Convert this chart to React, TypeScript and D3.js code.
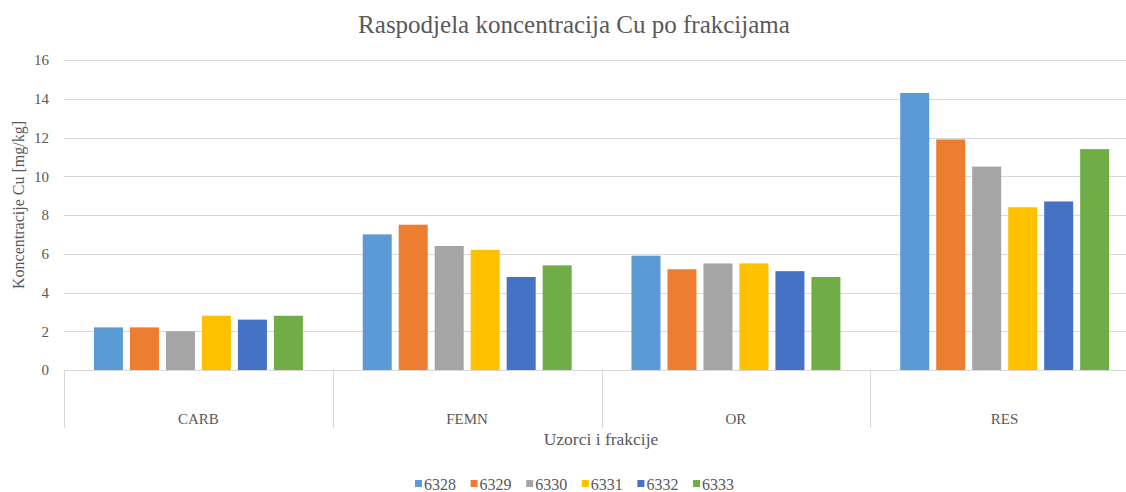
import React, { useRef, useEffect } from "react";
import * as d3 from "d3";

const categories = ["CARB", "FEMN", "OR", "RES"];
const seriesNames = ["6328", "6329", "6330", "6331", "6332", "6333"];
const values = [
  [2.2, 7.0, 5.9, 14.3],
  [2.2, 7.5, 5.2, 11.9],
  [2.0, 6.4, 5.5, 10.5],
  [2.8, 6.2, 5.5, 8.4],
  [2.6, 4.8, 5.1, 8.7],
  [2.8, 5.4, 4.8, 11.4],
];
const colors = ["#5B9BD5", "#ED7D31", "#A5A5A5", "#FFC000", "#4472C4", "#70AD47"];
const yTicks = [0, 2, 4, 6, 8, 10, 12, 14, 16];

const W = 1126;
const H = 492;
const FONT = "'Liberation Serif', 'Times New Roman', serif";
const TEXT = "#595959";
const GRID = "#d9d9d9";

const App = () => {
  const svgRef = useRef<SVGSVGElement>(null);

  useEffect(() => {
    const svg = d3.select(svgRef.current);
    svg.selectAll("*").remove();

    const left = 64;
    const right = 1139;
    const top = 60;
    const bottom = 370;

    const y = d3.scaleLinear().domain([0, 16]).range([bottom, top]);
    const x0 = d3.scaleBand().domain(categories).range([left, right]).padding(0);
    const gw = x0.bandwidth();
    const x1 = d3
      .scaleBand()
      .domain(seriesNames)
      .range([gw * 0.1115, gw * 0.889])
      .paddingInner(0.194)
      .paddingOuter(0);

    // title
    svg
      .append("text")
      .attr("x", 574)
      .attr("y", 33)
      .attr("text-anchor", "middle")
      .style("font-family", FONT)
      .style("font-size", "25px")
      .attr("fill", TEXT)
      .text("Raspodjela koncentracija Cu po frakcijama");

    // gridlines
    yTicks.slice(1).forEach((t) => {
      svg
        .append("line")
        .attr("x1", left)
        .attr("x2", right)
        .attr("y1", Math.round(y(t)) + 0.5)
        .attr("y2", Math.round(y(t)) + 0.5)
        .attr("stroke", GRID)
        .attr("stroke-width", 1);
    });

    // y tick labels
    yTicks.forEach((t) => {
      svg
        .append("text")
        .attr("x", 49)
        .attr("y", y(t))
        .attr("dy", "0.35em")
        .attr("text-anchor", "end")
        .style("font-family", FONT)
        .style("font-size", "15px")
        .attr("fill", TEXT)
        .text(t);
    });

    // y axis title
    svg
      .append("text")
      .attr("transform", `translate(24,205) rotate(-90)`)
      .attr("text-anchor", "middle")
      .style("font-family", FONT)
      .style("font-size", "16px")
      .attr("fill", TEXT)
      .text("Koncentracije Cu [mg/kg]");

    // bars
    seriesNames.forEach((s, si) => {
      categories.forEach((c, ci) => {
        const v = values[si][ci];
        svg
          .append("rect")
          .attr("x", (x0(c) as number) + (x1(s) as number))
          .attr("y", y(v))
          .attr("width", x1.bandwidth())
          .attr("height", bottom - y(v))
          .attr("fill", colors[si]);
      });
    });

    // x axis line + group dividers
    svg
      .append("line")
      .attr("x1", left)
      .attr("x2", right)
      .attr("y1", bottom + 0.5)
      .attr("y2", bottom + 0.5)
      .attr("stroke", GRID);

    [...categories.map((c) => x0(c) as number), right].forEach((xx) => {
      svg
        .append("line")
        .attr("x1", Math.round(xx) + 0.5)
        .attr("x2", Math.round(xx) + 0.5)
        .attr("y1", bottom)
        .attr("y2", 428)
        .attr("stroke", GRID);
    });

    categories.forEach((c) => {
      svg
        .append("text")
        .attr("x", (x0(c) as number) + gw / 2)
        .attr("y", 424)
        .attr("text-anchor", "middle")
        .style("font-family", FONT)
        .style("font-size", "15px")
        .attr("fill", TEXT)
        .text(c);
    });

    // x axis title
    svg
      .append("text")
      .attr("x", 601)
      .attr("y", 445)
      .attr("text-anchor", "middle")
      .style("font-family", FONT)
      .style("font-size", "17.5px")
      .attr("fill", TEXT)
      .text("Uzorci i frakcije");

    // legend
    const legend = svg.append("g").attr("transform", "translate(415,490)");
    seriesNames.forEach((s, i) => {
      const g = legend.append("g").attr("transform", `translate(${i * 55.6},0)`);
      g.append("rect")
        .attr("x", 0)
        .attr("y", -10)
        .attr("width", 7)
        .attr("height", 7)
        .attr("fill", colors[i]);
      g.append("text")
        .attr("x", 9)
        .attr("y", 0)
        .style("font-family", FONT)
        .style("font-size", "16px")
        .attr("fill", TEXT)
        .text(s);
    });
  }, []);

  return (
    <svg
      ref={svgRef}
      width={W}
      height={H}
      style={{ position: "absolute", left: 0, top: 0, background: "#fff" }}
    />
  );
};

export default App;
